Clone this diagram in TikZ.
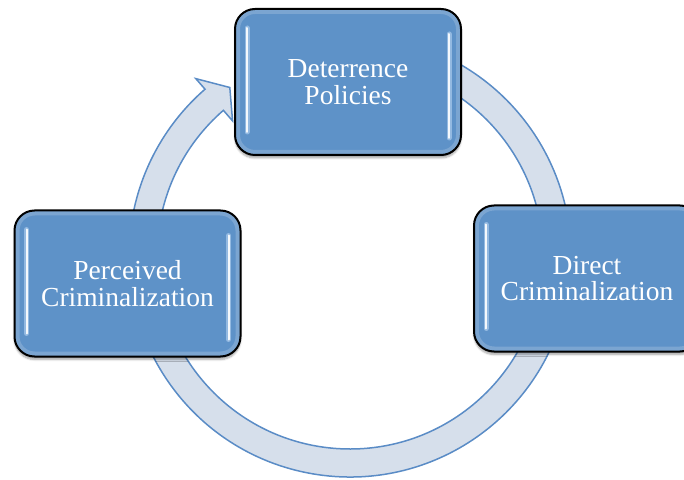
\documentclass[tikz,border=0pt]{standalone}
\usepackage{fontspec}
\setmainfont{Liberation Serif}
\usetikzlibrary{shadows.blur}
\definecolor{boxblue}{RGB}{94,146,200}
\definecolor{ringfill}{RGB}{214,223,235}
\definecolor{ringline}{RGB}{90,140,198}
\definecolor{glowblue}{RGB}{200,225,250}
\begin{document}
\begin{tikzpicture}[x=1pt,y=1pt,
  stage/.style={rounded corners=20pt, draw=black, line width=2pt, fill=boxblue,
    minimum width=226pt, minimum height=146pt, inner sep=0pt,
    text=white, align=center, font=\fontsize{27.5}{26.5}\selectfont,
    blur shadow={shadow xshift=0pt, shadow yshift=-3pt, shadow blur steps=6, shadow opacity=35},
    path picture={\draw[white, opacity=0.18, line width=10pt, rounded corners=20pt]
      (path picture bounding box.south west) rectangle (path picture bounding box.north east);}},
  glow/.style={glowblue, opacity=0.5, line width=5pt, line cap=round},
  gloss/.style={white, opacity=0.9, line width=2pt, line cap=round},
  ring/.style={fill=ringfill, draw=ringline, line width=1.5pt, line join=miter},
]
\useasboundingbox (0,0) rectangle (684,479);
\clip (0,0) rectangle (684,479);

% circular arrow running clockwise round the three stages
\begin{scope}[shift={(350,223)}]
  \filldraw[ring]
    (80:221) arc[start angle=80, end angle=-229, radius=221]
    -- (-229:235) -- (-234.5:207) -- (-229:179) -- (-229:193)
    arc[start angle=-229, end angle=80, radius=193] -- cycle;
\end{scope}

% stages
\node[stage] (det) at (348,397) {Deterrence\\Policies};
\node[stage] (dir) at (587,200.5) {Direct\\Criminalization};
\node[stage] (per) at (127.5,195.5) {Perceived\\Criminalization};

% glossy edge highlights
\foreach \n in {det,dir,per}{
  \draw[glow] ([xshift=13pt,yshift=-20pt]\n.north west) -- ([xshift=13pt,yshift=24pt]\n.south west);
  \draw[glow] ([xshift=-13pt,yshift=-26pt]\n.north east) -- ([xshift=-13pt,yshift=18pt]\n.south east);
  \draw[gloss] ([xshift=13pt,yshift=-20pt]\n.north west) -- ([xshift=13pt,yshift=24pt]\n.south west);
  \draw[gloss] ([xshift=-13pt,yshift=-26pt]\n.north east) -- ([xshift=-13pt,yshift=18pt]\n.south east);
}
\end{tikzpicture}
\end{document}
